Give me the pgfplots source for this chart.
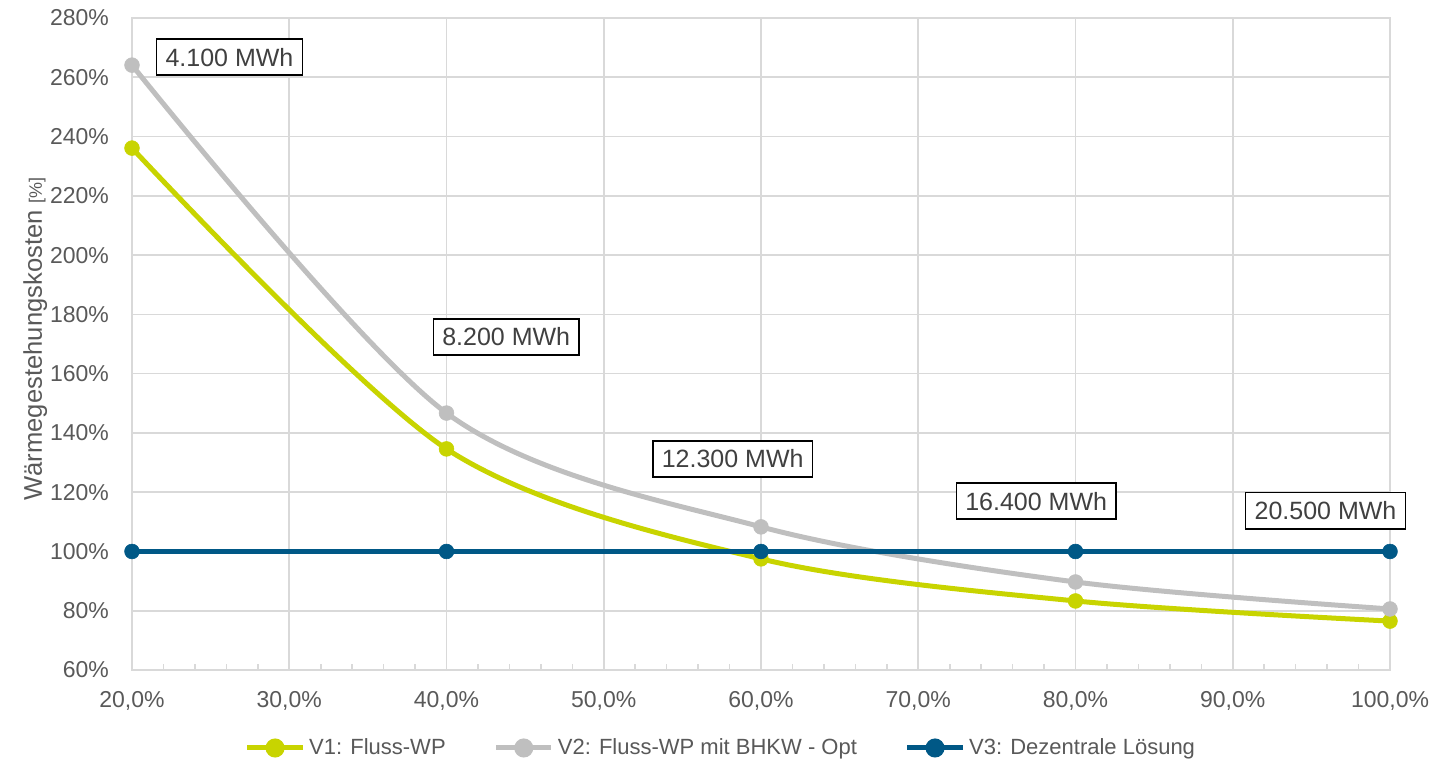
\documentclass[border=0pt]{standalone}
\usepackage{fontspec}
\setmainfont{Liberation Sans}
\usepackage{pgfplots}
\pgfplotsset{compat=1.18}
\definecolor{cV1}{RGB}{200,212,0}
\definecolor{cV2}{RGB}{191,191,191}
\definecolor{cV3}{RGB}{0,88,134}
\definecolor{gridc}{RGB}{217,217,217}
\definecolor{txt}{RGB}{89,89,89}
\begin{document}
\begin{tikzpicture}
\begin{axis}[
  scale only axis,
  width=629pt, height=326pt,
  xmin=20, xmax=100, ymin=60, ymax=280,
  xtick={20,30,...,100},
  xticklabels={{20,0\%},{30,0\%},{40,0\%},{50,0\%},{60,0\%},{70,0\%},{80,0\%},{90,0\%},{100,0\%}},
  ytick={60,80,...,280},
  yticklabels={60\%,80\%,100\%,120\%,140\%,160\%,180\%,200\%,220\%,240\%,260\%,280\%},
  minor x tick num=4,
  major tick length=0pt,
  minor tick length=3pt,
  minor tick style={gridc, line width=0.8pt},
  xtick pos=bottom, ytick pos=left,
  xmajorgrids, ymajorgrids,
  grid style={gridc, line width=0.8pt},
  axis line style={gridc, line width=0.8pt},
  tick label style={font=\fontsize{11.5}{13}\selectfont, text=txt},
  xticklabel style={yshift=-7pt},
  yticklabel style={xshift=-8pt},
  ylabel={Wärmegestehungskosten {\fontsize{9}{10}\selectfont[\%]}},
  ylabel style={font=\fontsize{12.8}{14}\selectfont, text=txt, at={(rel axis cs:-0.077,0.508)}, anchor=center},
  legend style={draw=none, at={(0.469,-0.1196)}, anchor=center, legend columns=3,
    font=\fontsize{11}{13}\selectfont, text=txt,
    /tikz/every even column/.append style={column sep=22pt}},
  legend image code/.code={
    \draw[#1, mark=none] (0cm,0cm) -- (0.97cm,0cm);
    \fill[#1] (0.485cm,0cm) circle (3.5pt);},
  clip=false,
]
\addplot[cV1, line width=2.5pt, smooth, mark=*, mark size=3.7pt, mark options={line width=0.3pt}] coordinates {(20,236.1) (40,134.6) (60,97.5) (80,83.3) (100,76.5)};
\addlegendentry{V1: Fluss-WP}
\addplot[cV2, line width=2.5pt, smooth, mark=*, mark size=3.7pt, mark options={line width=0.3pt}] coordinates {(20,264.1) (40,146.7) (60,108.3) (80,89.7) (100,80.6)};
\addlegendentry{V2: Fluss-WP mit BHKW - Opt}
\addplot[cV3, line width=2.5pt, mark=*, mark size=3.7pt, mark options={line width=0.3pt}] coordinates {(20,100) (40,100) (60,100) (80,100) (100,100)};
\addlegendentry{V3: Dezentrale Lösung}
\begin{scope}[every node/.style={draw=black, line width=0.8pt, fill=white, text=black!75, font=\fontsize{12.5}{14}\selectfont, inner sep=4.5pt}]
\node at (axis cs:26.2,266.8) {4.100 MWh};
\node at (axis cs:43.8,172.4) {8.200 MWh};
\node at (axis cs:58.2,131.2) {12.300 MWh};
\node at (axis cs:77.5,117) {16.400 MWh};
\node at (axis cs:95.9,113.7) {20.500 MWh};
\end{scope}
\coordinate (sw) at (rel axis cs:0,0);
\coordinate (ne) at (rel axis cs:1,1);
\end{axis}
\pgfresetboundingbox
\path ([xshift=-66pt,yshift=-47pt]sw) rectangle ([xshift=32.5pt,yshift=9pt]ne);
\end{tikzpicture}
\end{document}
